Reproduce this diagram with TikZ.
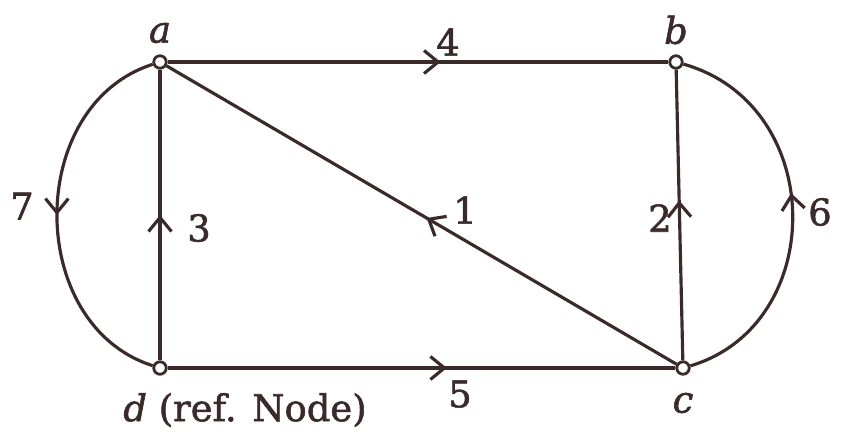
\documentclass[tikz,border=0pt]{standalone}
\usepackage{fontspec}
\setmainfont{DejaVu Serif}[FakeBold=1.6]
\usetikzlibrary{arrows.meta,decorations.markings}
\definecolor{ink}{HTML}{3A2A2A}
\tikzset{
  vtx/.style={circle,draw=ink,fill=white,line width=1.6pt,minimum size=0.25cm,inner sep=0pt},
  edge/.style={draw=ink,line width=1.8pt},
  lbl/.style={text=ink,font=\fontsize{21}{24}\selectfont,inner sep=1pt},
  midarrow/.style={postaction={decorate},decoration={markings,mark=at position #1 with {\arrow[ink,line width=1.8pt]{Straight Barb[length=2.8mm,width=4.6mm]}}}}
}
\begin{document}
\begin{tikzpicture}[x=0.02cm,y=-0.02cm]
\useasboundingbox (0,0) rectangle (865,441);
\node[vtx] (a) at (160,62) {};
\node[vtx] (b) at (676,62) {};
\node[vtx] (c) at (683,368) {};
\node[vtx] (d) at (160,368) {};
% edges
\draw[edge,midarrow=0.545] (a) -- (b);
\draw[edge,midarrow=0.55] (d) -- (c);
\draw[edge,midarrow=0.5] (d) -- (a);
\draw[edge,midarrow=0.55] (c) -- (b);
\draw[edge,midarrow=0.49] (c) -- (a);
\draw[edge,midarrow=0.5] (a) .. controls (25,105) and (25,325) .. (d);
\draw[edge,midarrow=0.55] (c) .. controls (828,325) and (828,105) .. (b);
% labels
\node[lbl] (la) at (160,33) {\itshape a};
\node[lbl] (lb) at (676,30) {\itshape b};
\node[lbl] (lc) at (683,403) {\itshape c};
\node[lbl] (ld) at (245,410) {{\itshape d} (ref. Node)};
\node[lbl] (l1) at (465,210) {1};
\node[lbl] (l2) at (660,218) {2};
\node[lbl] (l3) at (199,228) {3};
\node[lbl] (l4) at (448,42) {4};
\node[lbl] (l5) at (460,394) {5};
\node[lbl] (l6) at (820,212) {6};
\node[lbl] (l7) at (22,206) {7};
\end{tikzpicture}
\end{document}
